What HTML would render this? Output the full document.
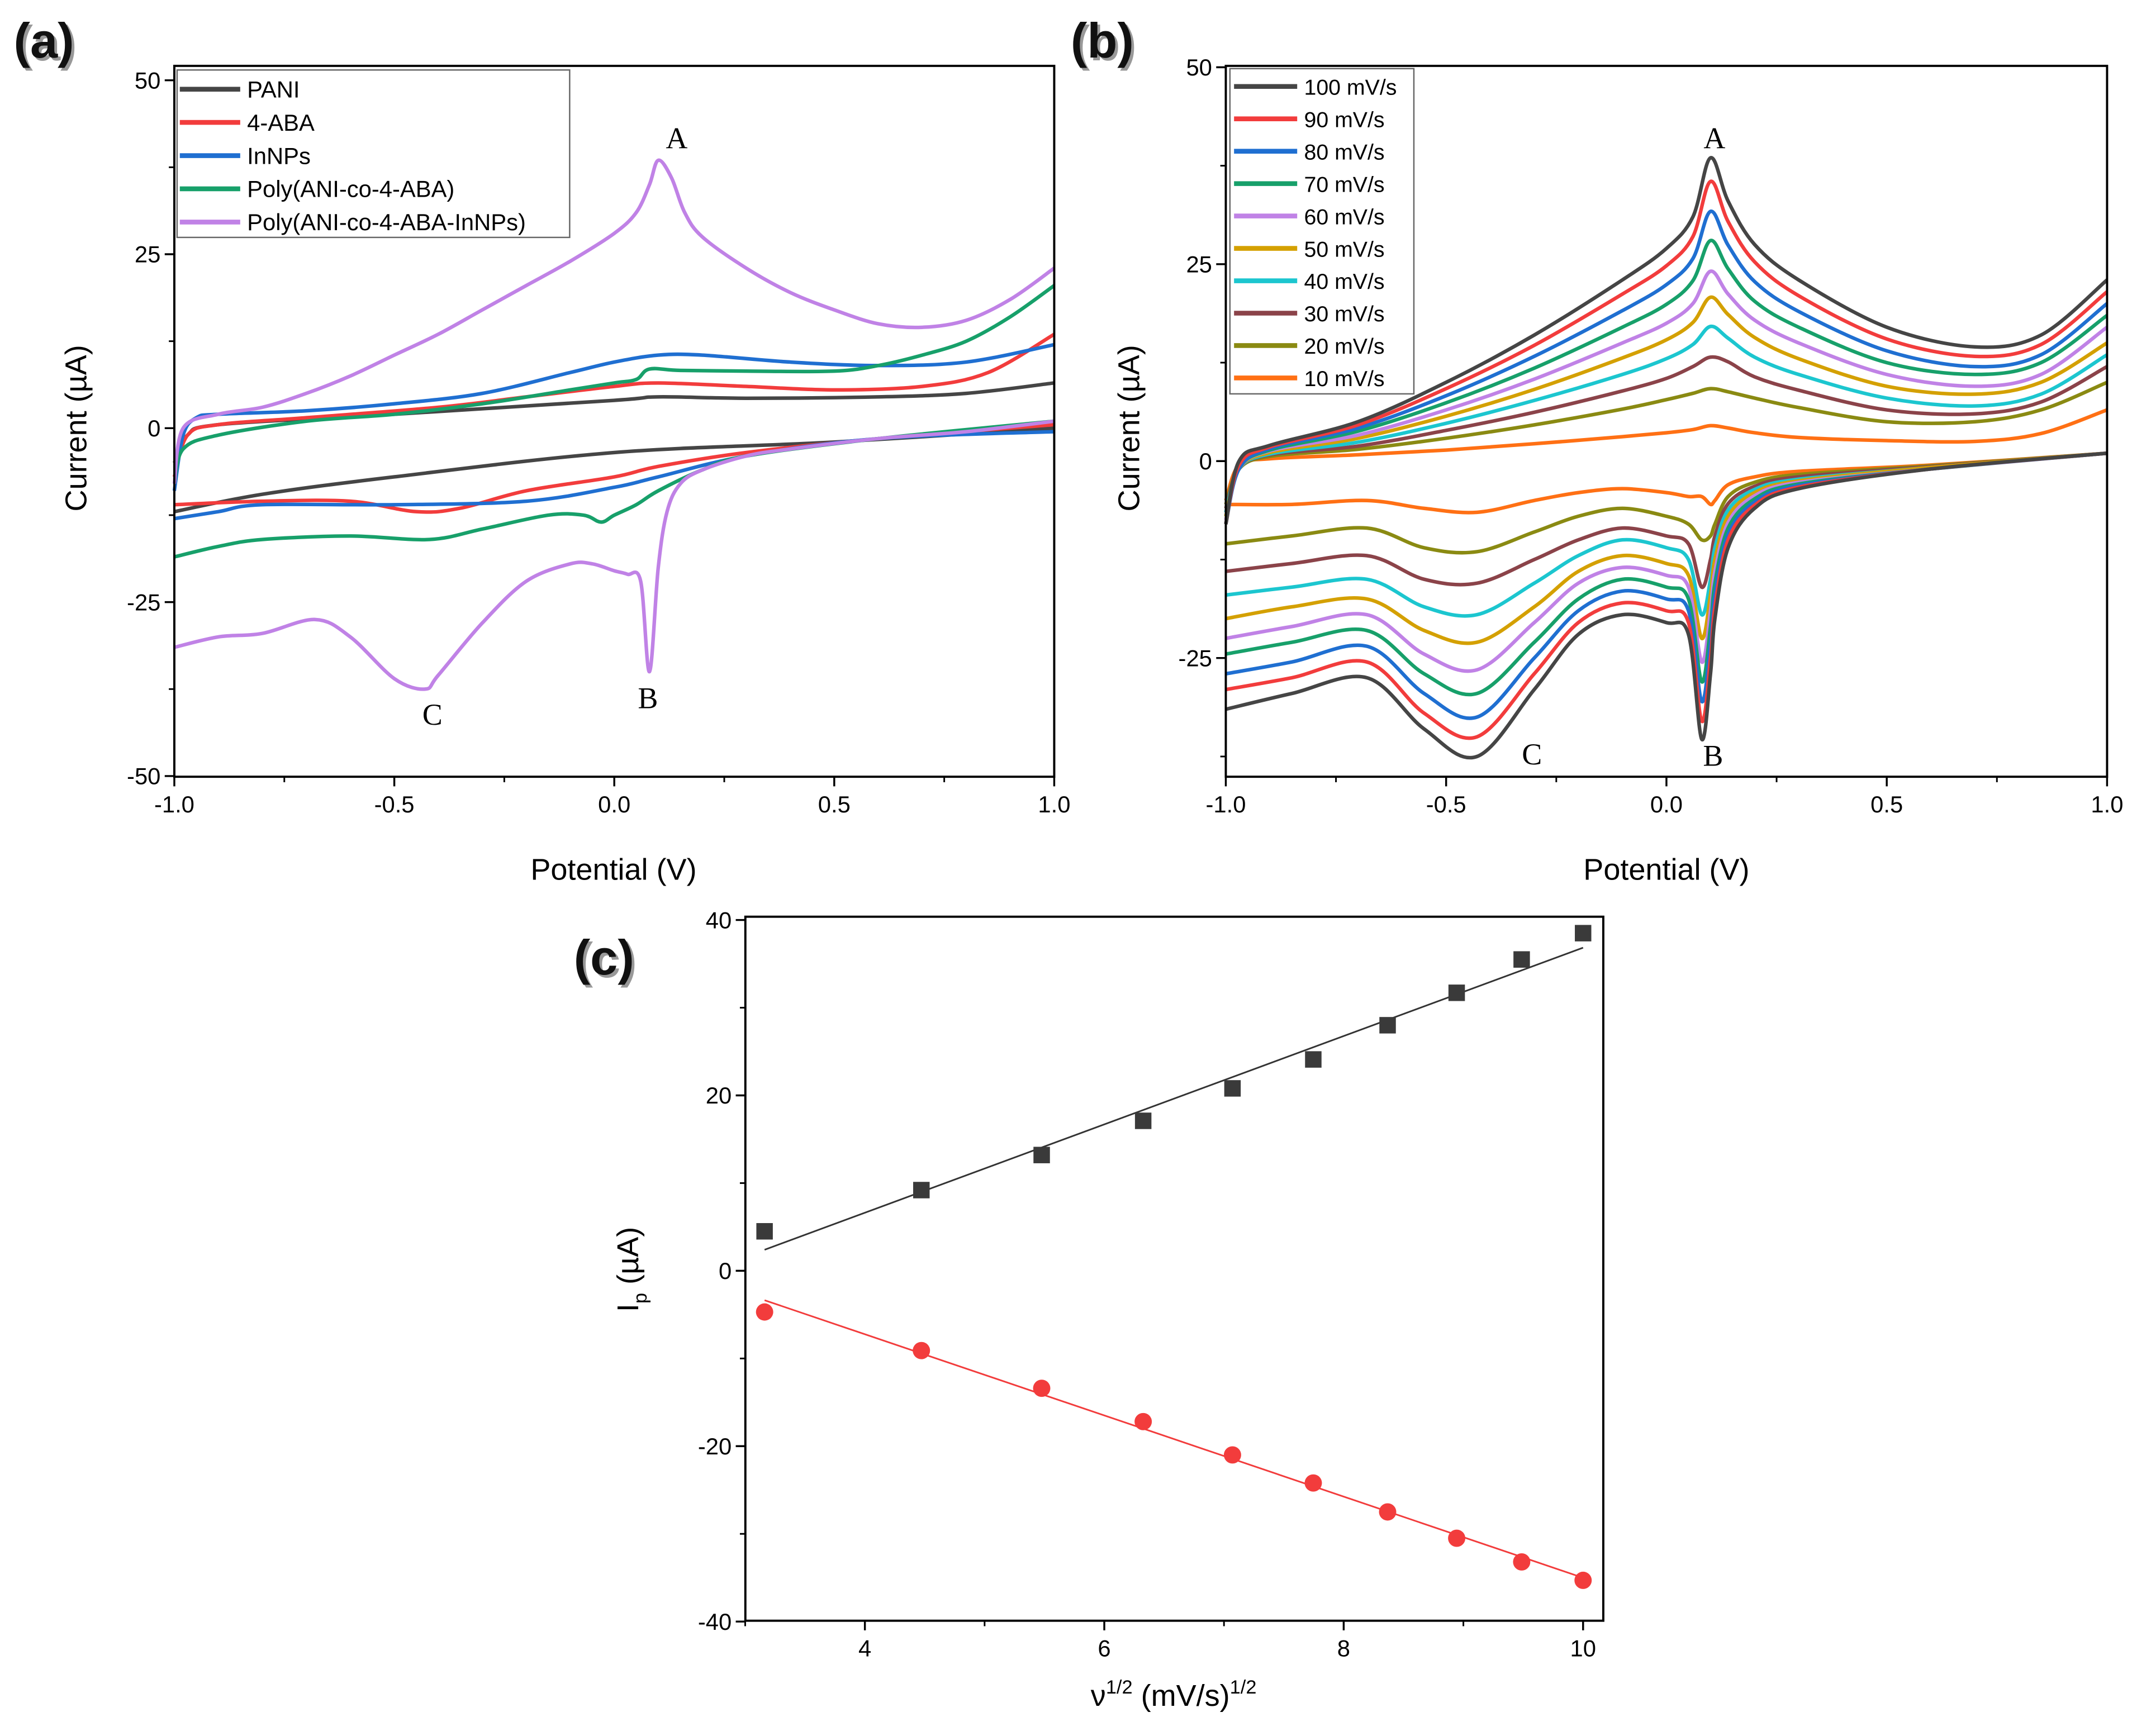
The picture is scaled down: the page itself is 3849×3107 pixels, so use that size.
<!DOCTYPE html>
<html><head><meta charset="utf-8"><style>
html,body{margin:0;padding:0;background:#fff;}
svg{display:block;font-family:"Liberation Sans",Arial,sans-serif;}
</style></head><body>
<svg id="fig" width="3849" height="3107" viewBox="0 0 1567 1265" preserveAspectRatio="none" xmlns="http://www.w3.org/2000/svg">
<rect width="1567" height="1265" fill="#fff"/>
<g id="ga"></g>
<g id="gb"></g>
<g id="gc"></g>
</svg>
<script>
// ---------- Panel (a) data ----------
const aNames = ["PANI","4-ABA","InNPs","Poly(ANI-co-4-ABA)","Poly(ANI-co-4-ABA-InNPs)"];
const aColors = ["#454545","#f23c3c","#1f6fd1","#17a06a","#c082e6"];
const aUpV = [
 [-1,-0.97,-0.9,-0.5,0,0.1,0.3,0.6,0.8,1.0],
 [-1,-0.97,-0.9,-0.7,-0.4,-0.2,0,0.1,0.3,0.5,0.7,0.85,1.0],
 [-1,-0.98,-0.95,-0.9,-0.7,-0.5,-0.3,-0.1,0,0.1,0.2,0.4,0.6,0.8,1.0],
 [-1,-0.98,-0.9,-0.7,-0.5,-0.3,-0.1,0,0.05,0.08,0.15,0.3,0.5,0.6,0.7,0.8,0.9,1.0],
 [-1,-0.98,-0.9,-0.8,-0.7,-0.6,-0.5,-0.4,-0.3,-0.2,-0.1,0,0.05,0.08,0.1,0.13,0.16,0.2,0.3,0.4,0.5,0.6,0.7,0.8,0.9,1.0]
];
const aUpI = [
 [-5,-1,0.5,2,4,4.5,4.3,4.5,5,6.5],
 [-7,-1,0.5,1.5,3,4.5,6,6.5,6,5.5,6,8,13.5],
 [-9,-1,1.5,2,2.5,3.5,5,8,9.5,10.5,10.5,9.5,9,9.5,12],
 [-8,-3,-1,1,2,3.5,5.5,6.5,7,8.5,8.3,8.2,8.2,9,10.5,12.5,16,20.5],
 [-8,0,2,3,5,7.5,10.5,13.5,17,20.5,24,28,31,35,38.5,36,31,27.5,23,19.5,17,15,14.5,15.5,18.5,23]
];
const aDnV = [
 [1.0,0.5,0,-0.5,-0.8,-1],
 [1.0,0.6,0.3,0.1,0,-0.2,-0.35,-0.45,-0.6,-0.8,-1],
 [1.0,0.6,0.3,0.1,0,-0.2,-0.5,-0.8,-0.9,-1],
 [1.0,0.6,0.3,0.2,0.1,0.05,0,-0.03,-0.07,-0.15,-0.3,-0.42,-0.6,-0.8,-0.9,-1],
 [1.0,0.8,0.6,0.4,0.3,0.2,0.15,0.12,0.1,0.08,0.06,0.03,0,-0.05,-0.1,-0.2,-0.3,-0.4,-0.43,-0.5,-0.6,-0.68,-0.8,-0.9,-1]
];
const aDnI = [
 [0,-2,-3.5,-7,-9.5,-12],
 [0.5,-1.5,-3.5,-5.5,-7,-9,-11.5,-12,-10.5,-10.5,-11],
 [-0.5,-1.5,-4,-7,-8.5,-10.5,-11,-11,-12,-13],
 [1,-1.5,-4,-6,-9,-11,-12.5,-13.5,-12.5,-12.5,-14.5,-16,-15.5,-16,-17,-18.5],
 [1,-0.5,-1.5,-3,-4,-6,-8,-12,-20,-35,-22,-21,-20.5,-19.5,-19.5,-22,-28,-35.5,-37.5,-36,-30,-27.5,-29.5,-30,-31.5]
];
// ---------- Panel (b) data ----------
const bNames = ["100 mV/s","90 mV/s","80 mV/s","70 mV/s","60 mV/s","50 mV/s","40 mV/s","30 mV/s","20 mV/s","10 mV/s"];
const bColors = ["#454545","#f23c3c","#1f6fd1","#17a06a","#c082e6","#d4a000","#1cc6cf","#8b4349","#8a8a12","#ff7014"];
const bUpV = [-1,-0.97,-0.9,-0.7,-0.5,-0.3,-0.1,0,0.06,0.1,0.14,0.2,0.3,0.5,0.7,0.85,1.0];
const bUpI = [
 [-8,0,2,5,10,16,23,27,31,38.5,33,27.5,23,17,14.5,16,23],
 [-8,-0.5,1.8,4.6,9.2,14.7,21.2,24.8,28.5,35.5,30.4,25.3,21,15.5,13.3,14.8,21.5],
 [-8,-1,1.6,4.2,8.3,13.3,19.1,22.4,25.7,31.7,27.4,22.8,19,14,12,13.5,20],
 [-8,-1,1.4,3.8,7.4,11.8,17,19.9,22.9,28,24.4,20.3,17,12.5,11,12.5,18.5],
 [-7.5,-1,1.3,3.3,6.5,10.4,15,17.5,20,24.1,21.2,17.9,15,11,9.5,11,17],
 [-7,-1,1.1,2.9,5.7,9.1,13.1,15.4,17.6,20.8,18.6,15.7,13,9.5,8.5,10,15],
 [-6.5,-1,0.9,2.4,4.8,7.7,11,13,14.8,17.1,15.6,13.2,11,8,7,8.5,13.5],
 [-6,-1,0.8,1.9,3.9,6.2,8.9,10.5,12,13.2,12.6,10.7,9,6.5,6,7.5,12],
 [-5.5,-1,0.6,1.5,2.9,4.6,6.6,7.8,8.6,9.2,8.8,8,6.8,5,5,6.5,10],
 [-5,-0.5,0.3,0.8,1.4,2.2,3.1,3.6,4,4.5,4.2,3.6,3,2.6,2.5,3.5,6.5]
];
const bDnV = [1.0,0.6,0.3,0.2,0.14,0.11,0.1,0.08,0.05,0,-0.1,-0.2,-0.3,-0.43,-0.55,-0.68,-0.85,-1.0];
const bDnI = [
 [1,-1,-3.5,-6,-11,-20,-27,-35.3,-22,-20.5,-19.5,-22,-29,-37.5,-34,-27.5,-29.5,-31.5],
 [1,-1,-3.3,-5.6,-10,-18.5,-25,-33,-20.5,-19,-18,-20.5,-27,-35,-32,-25.5,-27.5,-29],
 [1,-1,-3.1,-5.2,-9.3,-17,-23,-30.5,-19,-17.5,-16.5,-19,-25,-32.5,-29.5,-23.5,-25.5,-27],
 [1,-1,-2.9,-4.8,-8.5,-15.5,-21,-28,-17.5,-16,-15,-17.5,-23,-29.5,-27,-21.5,-23,-24.5],
 [1,-1,-2.7,-4.4,-7.8,-14,-19,-25.5,-16,-14.5,-13.5,-15.5,-20.5,-26.5,-24.5,-19.5,-21,-22.5],
 [1,-0.8,-2.5,-4,-7,-12.5,-17,-22.5,-14.5,-13,-12,-14,-18.5,-23,-21.5,-17.5,-18.5,-20],
 [1,-0.8,-2.3,-3.6,-6.2,-11,-15,-19.5,-12.5,-11,-10,-12,-15.5,-19.5,-18.5,-15,-16,-17],
 [1,-0.7,-2,-3.2,-5.4,-9.5,-12.5,-16,-10.5,-9.5,-8.5,-10,-12.5,-15.5,-15,-12,-13,-14],
 [1,-0.6,-1.7,-2.7,-4.5,-8,-9.5,-10,-8,-7,-6,-7,-9,-11.5,-11,-8.5,-9.5,-10.5],
 [1,-0.5,-1.3,-2,-3,-5,-5.5,-4.5,-4.5,-4,-3.5,-4,-5,-6.5,-6,-5,-5.5,-5.5]
];
// ---------- Panel (c) data ----------
const cX = [3.162,4.472,5.477,6.325,7.071,7.746,8.367,8.944,9.487,10];
const cAnodic = [4.5,9.2,13.2,17.1,20.8,24.1,28,31.7,35.5,38.5];
const cCathodic = [-4.7,-9.1,-13.4,-17.2,-21,-24.2,-27.5,-30.5,-33.2,-35.3];
const cYTicks = [40,20,0,-20,-40];
const cXTicks = [4,6,8,10];
const abXTicks = [-1.0,-0.5,0.0,0.5,1.0];
const aYTicks = [50,25,0,-25,-50];
const bYTicks = [50,25,0,-25];

const NS="http://www.w3.org/2000/svg";
function mk(parent,tag,attrs,text){const e=document.createElementNS(NS,tag);for(const k in attrs)e.setAttribute(k,attrs[k]);if(text!==undefined)e.textContent=text;parent.appendChild(e);return e;}
function smooth(pts){
  let d="M"+pts[0][0].toFixed(2)+","+pts[0][1].toFixed(2);
  for(let i=0;i<pts.length-1;i++){
    const p0=pts[Math.max(0,i-1)],p1=pts[i],p2=pts[i+1],p3=pts[Math.min(pts.length-1,i+2)];
    let c1=[p1[0]+(p2[0]-p0[0])/6,p1[1]+(p2[1]-p0[1])/6];
    let c2=[p2[0]-(p3[0]-p1[0])/6,p2[1]-(p3[1]-p1[1])/6];
    // clamp x of control points to segment range to avoid overshoot
    const lo=Math.min(p1[0],p2[0]),hi=Math.max(p1[0],p2[0]);
    c1[0]=Math.min(hi,Math.max(lo,c1[0]));c2[0]=Math.min(hi,Math.max(lo,c2[0]));
    d+=" C"+c1[0].toFixed(2)+","+c1[1].toFixed(2)+" "+c2[0].toFixed(2)+","+c2[1].toFixed(2)+" "+p2[0].toFixed(2)+","+p2[1].toFixed(2);
  }
  return d;
}
function axesBox(g,x0,x1,y0,y1,xs,ys,xt,yt,xfmt,yfmt,minorX,minorY){
  const box=mk(g,"rect",{x:x0,y:y0,width:x1-x0,height:y1-y0,fill:"none",stroke:"#000","stroke-width":1.6});
  
  
  xt.forEach(v=>{const x=xs(v);mk(g,"line",{x1:x,x2:x,y1:y1,y2:y1+7,stroke:"#000","stroke-width":1.4});
    const t=mk(g,"text",{x:x,y:y1+26,"font-size":17,"text-anchor":"middle"},xfmt(v));
    
    });
  minorX.forEach(v=>{const x=xs(v);mk(g,"line",{x1:x,x2:x,y1:y1,y2:y1+4,stroke:"#000","stroke-width":1.2});});
  yt.forEach(v=>{const y=ys(v);mk(g,"line",{x1:x0-7,x2:x0,y1:y,y2:y,stroke:"#000","stroke-width":1.4});
    const t=mk(g,"text",{x:x0-10,y:y+6,"font-size":17,"text-anchor":"end"},yfmt(v));
    
    });
  minorY.forEach(v=>{const y=ys(v);mk(g,"line",{x1:x0-4,x2:x0,y1:y,y2:y,stroke:"#000","stroke-width":1.2});});
}
function panelLabel(g,x,y,s){
  mk(g,"text",{x:x+2,y:y+2,"font-size":36,"font-weight":"bold",fill:"#999"},s);
  const t=mk(g,"text",{x:x,y:y,"font-size":36,"font-weight":"bold",fill:"#111"},s);
  
  
}
function letter(g,x,y,s){const t=mk(g,"text",{x:x,y:y,"font-size":22,"font-family":"Liberation Serif, serif","text-anchor":"middle"},s);
  
  }
function axisTitles(g,cx,cy,xlab,lx,ly,ylab){
  const xt=mk(g,"text",{x:cx,y:cy,"font-size":22,"text-anchor":"middle"},xlab);
  
  
  const yt=mk(g,"text",{x:lx,y:ly,"font-size":22,"text-anchor":"middle",transform:"rotate(-90 "+lx+" "+ly+")"},ylab);
  
  
}
const fmt1=v=>v.toFixed(1);
const fmt0=v=>String(v);

// ---------- Panel A ----------
(function(){
  const g=document.getElementById("ga");
  const x0=127,x1=768,y0=48,y1=566;
  const xs=v=>x0+(v+1)/2*(x1-x0);
  const ys=v=>312-v*5.07;
  for(let i=0;i<aNames.length;i++){
    const up=aUpV[i].map((v,k)=>[xs(v),ys(aUpI[i][k])]);
    const dn=aDnV[i].map((v,k)=>[xs(v),ys(aDnI[i][k])]);
    const p=mk(g,"path",{d:smooth(up)+" "+smooth(dn),fill:"none",stroke:aColors[i],"stroke-width":2.6,"stroke-linejoin":"round"});
    
    
  }
  axesBox(g,x0,x1,y0,y1,xs,ys,abXTicks,aYTicks,fmt1,fmt0,[-0.75,-0.25,0.25,0.75],[37.5,12.5,-12.5,-37.5]);
  const lg=mk(g,"g",{});
  
  
  mk(lg,"rect",{x:129,y:51,width:286,height:122,fill:"#fff",stroke:"#666","stroke-width":1});
  aNames.forEach((n,i)=>{const y=65+i*24.2;
    mk(lg,"line",{x1:131,x2:175,y1:y,y2:y,stroke:aColors[i],"stroke-width":3.5});
    const t=mk(lg,"text",{x:180,y:y+6,"font-size":17},n);
    
    });
  letter(g,493,108,"A");letter(g,472,516,"B");letter(g,315,528,"C");
  axisTitles(g,447,641,"Potential (V)",63,312,"Current (µA)");
  panelLabel(g,10,42,"(a)");
})();

// ---------- Panel B ----------
(function(){
  const g=document.getElementById("gb");
  const x0=893,x1=1535,y0=48,y1=566;
  const xs=v=>x0+(v+1)/2*(x1-x0);
  const ys=v=>336-v*5.74;
  for(let i=bNames.length-1;i>=0;i--){
    const up=bUpV.map((v,k)=>[xs(v),ys(bUpI[i][k])]);
    const dn=bDnV.map((v,k)=>[xs(v),ys(bDnI[i][k])]);
    const p=mk(g,"path",{d:smooth(up)+" "+smooth(dn),fill:"none",stroke:bColors[i],"stroke-width":2.6,"stroke-linejoin":"round"});
    
    
  }
  axesBox(g,x0,x1,y0,y1,xs,ys,abXTicks,bYTicks,fmt1,fmt0,[-0.75,-0.25,0.25,0.75],[37.5,12.5,-12.5,-37.5]);
  const lg=mk(g,"g",{});
  
  
  mk(lg,"rect",{x:896,y:50,width:134,height:237,fill:"#fff",stroke:"#666","stroke-width":1});
  bNames.forEach((n,i)=>{const y=63+i*23.6;
    mk(lg,"line",{x1:899,x2:945,y1:y,y2:y,stroke:bColors[i],"stroke-width":3.5});
    const t=mk(lg,"text",{x:950,y:y+6,"font-size":16},n);
    
    });
  letter(g,1249,108,"A");letter(g,1248,558,"B");letter(g,1116,557,"C");
  axisTitles(g,1214,641,"Potential (V)",830,312,"Current (µA)");
  panelLabel(g,780,42,"(b)");
})();

// ---------- Panel C ----------
(function(){
  const g=document.getElementById("gc");
  const x0=543,x1=1168,y0=668,y1=1181;
  const xs=v=>557+(v-3.162)*87.2;
  const ys=v=>926-v*6.39;
  axesBox(g,x0,x1,y0,y1,xs,ys,cXTicks,cYTicks,fmt0,fmt0,[3,5,7,9],[30,10,-10,-30]);
  function fit(Y){const n=cX.length;const mx=cX.reduce((a,b)=>a+b)/n,my=Y.reduce((a,b)=>a+b)/n;
    let sxy=0,sxx=0;for(let i=0;i<n;i++){sxy+=(cX[i]-mx)*(Y[i]-my);sxx+=(cX[i]-mx)**2;}const b=sxy/sxx;return [my-b*mx,b];}
  const fa=fit(cAnodic),fc=fit(cCathodic);
  const xa=cX[0],xb=cX[cX.length-1];
  const l1=mk(g,"line",{x1:xs(xa),y1:ys(fa[0]+fa[1]*xa),x2:xs(xb),y2:ys(fa[0]+fa[1]*xb),stroke:"#333","stroke-width":1.2});
  
  
  const l2=mk(g,"line",{x1:xs(xa),y1:ys(fc[0]+fc[1]*xa),x2:xs(xb),y2:ys(fc[0]+fc[1]*xb),stroke:"#f23c3c","stroke-width":1.2});
  
  
  cX.forEach((x,i)=>{
    const s=mk(g,"rect",{x:xs(x)-6,y:ys(cAnodic[i])-6,width:12,height:12,fill:"#3a3a3a"});
    
    
    const c=mk(g,"circle",{cx:xs(x),cy:ys(cCathodic[i]),r:6.3,fill:"#f23c3c"});
    
    
  });
  const xt=mk(g,"text",{x:855,y:1243,"font-size":22,"text-anchor":"middle"});
  
  
  xt.innerHTML='ν<tspan font-size="14" dy="-9">1/2</tspan><tspan dy="9"> (mV/s)</tspan><tspan font-size="14" dy="-9">1/2</tspan>';
  const yt=mk(g,"text",{x:465,y:925,"font-size":22,"text-anchor":"middle",transform:"rotate(-90 465 925)"});
  
  
  yt.innerHTML='I<tspan font-size="14" dy="6">p</tspan><tspan dy="-6"> (µA)</tspan>';
  panelLabel(g,418,710,"(c)");
})();
</script>
</body></html>
